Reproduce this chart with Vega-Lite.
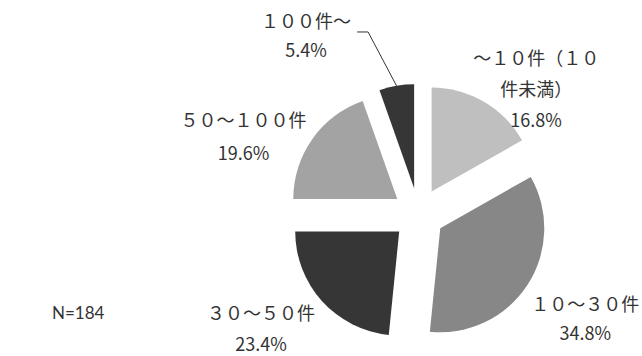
{
  "$schema": "https://vega.github.io/schema/vega-lite/v6.json",
  "width": 642,
  "height": 356,
  "autosize": {"type": "fit", "contains": "padding"},
  "padding": 0,
  "background": "white",
  "view": {"stroke": null},
  "config": {"text": {"font": "Noto Sans CJK JP"}},
  "data": {
    "values": [
      {"category": "～１０件（１０件未満）", "wrapped": "～１０件（１０\n件未満）", "share": 16.8, "order": 1},
      {"category": "１０～３０件", "wrapped": "１０～３０件", "share": 34.8, "order": 2},
      {"category": "３０～５０件", "wrapped": "３０～５０件", "share": 23.4, "order": 3},
      {"category": "５０～１００件", "wrapped": "５０～１００件", "share": 19.6, "order": 4},
      {"category": "１００件～", "wrapped": "１００件～", "share": 5.4, "order": 5}
    ]
  },
  "transform": [
    {"window": [{"op": "sum", "field": "share", "as": "cum"}], "sort": [{"field": "order"}], "frame": [null, 0]},
    {"calculate": "datum.cum - datum.share", "as": "start"},
    {"calculate": "(datum.start + datum.share / 2) * 2 * PI / 100", "as": "mid"},
    {"calculate": "26 * sin(datum.mid)", "as": "ox"},
    {"calculate": "26 * cos(datum.mid)", "as": "oy"},
    {"calculate": "180 * sin(datum.mid)", "as": "lx"},
    {"calculate": "180 * cos(datum.mid)", "as": "ly"},
    {"calculate": "datum.wrapped + '\\n' + format(datum.share, '.1f') + '%'", "as": "labelText"}
  ],
  "layer": [
    {
      "mark": {"type": "arc", "outerRadius": 104, "stroke": null},
      "encoding": {
        "x": {"field": "ox", "type": "quantitative", "scale": {"domain": [-418.5, 223.5], "nice": false, "zero": false}, "axis": null},
        "y": {"field": "oy", "type": "quantitative", "scale": {"domain": [-142, 214], "nice": false, "zero": false}, "axis": null},
        "theta": {"field": "start", "type": "quantitative", "stack": null, "scale": {"domain": [0, 100], "range": [0, 6.283185307179586]}},
        "theta2": {"field": "cum"},
        "color": {
          "field": "category",
          "type": "nominal",
          "scale": {
            "domain": ["～１０件（１０件未満）", "１０～３０件", "３０～５０件", "５０～１００件", "１００件～"],
            "range": ["#bfbfbf", "#878787", "#363636", "#a3a3a3", "#363636"]
          },
          "legend": null
        }
      }
    },
    {
      "transform": [
        {"filter": "datum.order == 5"},
        {"calculate": "130 * sin(datum.mid)", "as": "ex"},
        {"calculate": "130 * cos(datum.mid)", "as": "ey"},
        {"calculate": "datum.lx - 20", "as": "kx"},
        {"calculate": "datum.ly + 4.6", "as": "ky"}
      ],
      "mark": {"type": "rule", "color": "#333333", "strokeWidth": 1},
      "encoding": {
        "x": {"field": "ex", "type": "quantitative", "scale": {"domain": [-418.5, 223.5], "nice": false, "zero": false}, "axis": null},
        "y": {"field": "ey", "type": "quantitative", "scale": {"domain": [-142, 214], "nice": false, "zero": false}, "axis": null},
        "x2": {"field": "kx"},
        "y2": {"field": "ky"}
      }
    },
    {
      "transform": [
        {"filter": "datum.order == 5"},
        {"calculate": "datum.lx - 20", "as": "kx"},
        {"calculate": "datum.ly + 4.6", "as": "ky"},
        {"calculate": "datum.kx - 11", "as": "kx2"}
      ],
      "mark": {"type": "rule", "color": "#333333", "strokeWidth": 1},
      "encoding": {
        "x": {"field": "kx", "type": "quantitative", "scale": {"domain": [-418.5, 223.5], "nice": false, "zero": false}, "axis": null},
        "y": {"field": "ky", "type": "quantitative", "scale": {"domain": [-142, 214], "nice": false, "zero": false}, "axis": null},
        "x2": {"field": "kx2"},
        "y2": {"field": "ky"}
      }
    },
    {
      "transform": [{"filter": "datum.order == 1"}],
      "mark": {"type": "text", "align": "center", "baseline": "middle", "lineBreak": "\n", "lineHeight": 31, "fontSize": 18, "color": "#333333", "dx": 27, "dy": 2},
      "encoding": {
        "x": {"field": "lx", "type": "quantitative", "scale": {"domain": [-418.5, 223.5], "nice": false, "zero": false}, "axis": null},
        "y": {"field": "ly", "type": "quantitative", "scale": {"domain": [-142, 214], "nice": false, "zero": false}, "axis": null},
        "text": {"field": "labelText"}
      }
    },
    {
      "transform": [{"filter": "datum.order == 2"}],
      "mark": {"type": "text", "align": "center", "baseline": "middle", "lineBreak": "\n", "lineHeight": 29, "fontSize": 18, "color": "#333333", "dx": 16, "dy": -6},
      "encoding": {
        "x": {"field": "lx", "type": "quantitative", "scale": {"domain": [-418.5, 223.5], "nice": false, "zero": false}, "axis": null},
        "y": {"field": "ly", "type": "quantitative", "scale": {"domain": [-142, 214], "nice": false, "zero": false}, "axis": null},
        "text": {"field": "labelText"}
      }
    },
    {
      "transform": [{"filter": "datum.order == 3"}],
      "mark": {"type": "text", "align": "center", "baseline": "middle", "lineBreak": "\n", "lineHeight": 31, "fontSize": 18, "color": "#333333", "dx": -24, "dy": -20},
      "encoding": {
        "x": {"field": "lx", "type": "quantitative", "scale": {"domain": [-418.5, 223.5], "nice": false, "zero": false}, "axis": null},
        "y": {"field": "ly", "type": "quantitative", "scale": {"domain": [-142, 214], "nice": false, "zero": false}, "axis": null},
        "text": {"field": "labelText"}
      }
    },
    {
      "transform": [{"filter": "datum.order == 4"}],
      "mark": {"type": "text", "align": "center", "baseline": "middle", "lineBreak": "\n", "lineHeight": 33, "fontSize": 18, "color": "#333333", "dx": -28, "dy": 12},
      "encoding": {
        "x": {"field": "lx", "type": "quantitative", "scale": {"domain": [-418.5, 223.5], "nice": false, "zero": false}, "axis": null},
        "y": {"field": "ly", "type": "quantitative", "scale": {"domain": [-142, 214], "nice": false, "zero": false}, "axis": null},
        "text": {"field": "labelText"}
      }
    },
    {
      "transform": [{"filter": "datum.order == 5"}],
      "mark": {"type": "text", "align": "center", "baseline": "middle", "lineBreak": "\n", "lineHeight": 29, "fontSize": 18, "color": "#333333", "dx": -82, "dy": -14},
      "encoding": {
        "x": {"field": "lx", "type": "quantitative", "scale": {"domain": [-418.5, 223.5], "nice": false, "zero": false}, "axis": null},
        "y": {"field": "ly", "type": "quantitative", "scale": {"domain": [-142, 214], "nice": false, "zero": false}, "axis": null},
        "text": {"field": "labelText"}
      }
    },
    {
      "data": {"values": [{"n": 184}]},
      "transform": [{"calculate": "'N=' + datum.n", "as": "nText"}],
      "mark": {"type": "text", "align": "left", "baseline": "middle", "font": "Lato", "fontSize": 17, "color": "#333333"},
      "encoding": {
        "x": {"datum": -366.5, "type": "quantitative", "scale": {"domain": [-418.5, 223.5], "nice": false, "zero": false}, "axis": null},
        "y": {"datum": -100, "type": "quantitative", "scale": {"domain": [-142, 214], "nice": false, "zero": false}, "axis": null},
        "text": {"field": "nText"}
      }
    }
  ]
}
